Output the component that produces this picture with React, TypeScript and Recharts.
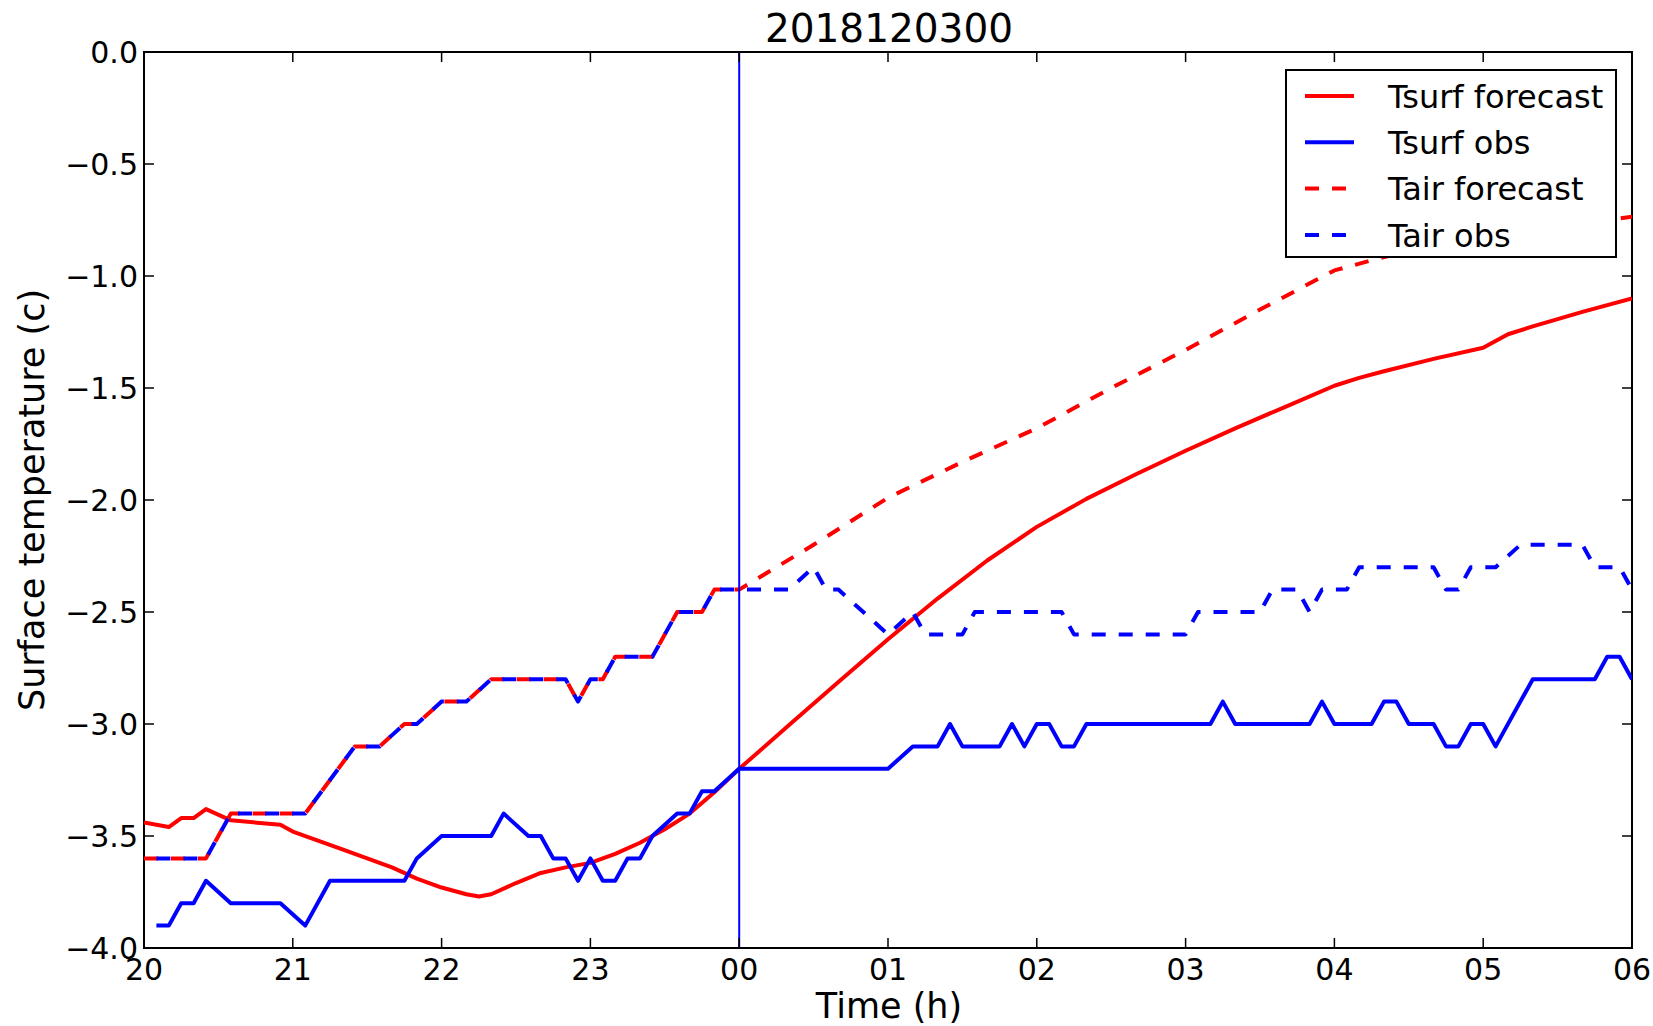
import React from 'react';
import { LineChart, Line, XAxis, YAxis, ReferenceLine, ReferenceArea, Legend } from 'recharts';

const FONT = '"DejaVu Sans", "Bitstream Vera Sans", sans-serif';
const W = 1653;
const H = 1026;
const PLOT = { left: 144, right: 1632, top: 52, bottom: 948 };
const TICK_LEN = 10;

// x values are minutes after 20:00
const HOUR_TICKS = [0, 60, 120, 180, 240, 300, 360, 420, 480, 540, 600];
const HOUR_LABELS = ['20', '21', '22', '23', '00', '01', '02', '03', '04', '05', '06'];
const TEMP_TICKS = [-4, -3.5, -3, -2.5, -2, -1.5, -1, -0.5, 0];
const TEMP_LABELS = ['−4.0', '−3.5', '−3.0', '−2.5', '−2.0', '−1.5', '−1.0', '−0.5', '0.0'];
const FORECAST_START = 240;

const tsurfForecast: [number, number][] = [
  [0, -3.44], [10, -3.46], [15, -3.42], [20, -3.42], [25, -3.38], [35, -3.43], [55, -3.45],
  [60, -3.48], [80, -3.56], [100, -3.64], [110, -3.69], [120, -3.73], [130, -3.76], [135, -3.77],
  [140, -3.76], [150, -3.71], [160, -3.665], [170, -3.64], [180, -3.62], [190, -3.58], [200, -3.53],
  [210, -3.47], [220, -3.4], [230, -3.305], [240, -3.2], [260, -3.006], [280, -2.812], [300, -2.622],
  [320, -2.44], [340, -2.27], [360, -2.12], [380, -1.995], [400, -1.885], [420, -1.78], [440, -1.68],
  [460, -1.585], [480, -1.49], [490, -1.455], [500, -1.425], [520, -1.37], [540, -1.32], [550, -1.26],
  [560, -1.225], [580, -1.16], [600, -1.1],
];

const tsurfObs: [number, number][] = [
  [5, -3.9], [10, -3.9], [15, -3.8], [20, -3.8], [25, -3.7], [35, -3.8], [55, -3.8], [65, -3.9],
  [75, -3.7], [105, -3.7], [110, -3.6], [120, -3.5], [140, -3.5], [145, -3.4], [155, -3.5],
  [160, -3.5], [165, -3.6], [170, -3.6], [175, -3.7], [180, -3.6], [185, -3.7], [190, -3.7],
  [195, -3.6], [200, -3.6], [205, -3.5], [215, -3.4], [220, -3.4], [225, -3.3], [230, -3.3],
  [240, -3.2], [300, -3.2], [310, -3.1], [320, -3.1], [325, -3.0], [330, -3.1], [345, -3.1],
  [350, -3.0], [355, -3.1], [360, -3.0], [365, -3.0], [370, -3.1], [375, -3.1], [380, -3.0],
  [430, -3.0], [435, -2.9], [440, -3.0], [470, -3.0], [475, -2.9], [480, -3.0], [495, -3.0],
  [500, -2.9], [505, -2.9], [510, -3.0], [520, -3.0], [525, -3.1], [530, -3.1], [535, -3.0],
  [540, -3.0], [545, -3.1], [560, -2.8], [585, -2.8], [590, -2.7], [595, -2.7], [600, -2.8],
];

// analysis part (before 00) follows the observations
const tairForecast: [number, number][] = [
  [0, -3.6], [25, -3.6], [35, -3.4], [65, -3.4], [85, -3.1], [95, -3.1], [105, -3.0], [110, -3.0],
  [120, -2.9], [130, -2.9], [140, -2.8], [170, -2.8], [175, -2.9], [180, -2.8], [185, -2.8],
  [190, -2.7], [205, -2.7], [215, -2.5], [225, -2.5], [230, -2.4], [240, -2.4], [270, -2.2],
  [300, -1.99], [330, -1.83], [360, -1.68], [390, -1.5], [420, -1.33], [450, -1.15],
  [480, -0.975], [500, -0.915], [520, -0.87], [540, -0.83], [570, -0.78], [600, -0.735],
];

const tairObs: [number, number][] = [
  [5, -3.6], [25, -3.6], [35, -3.4], [65, -3.4], [85, -3.1], [95, -3.1], [105, -3.0], [110, -3.0],
  [120, -2.9], [130, -2.9], [140, -2.8], [170, -2.8], [175, -2.9], [180, -2.8], [185, -2.8],
  [190, -2.7], [205, -2.7], [215, -2.5], [225, -2.5], [230, -2.4], [260, -2.4], [270, -2.3],
  [275, -2.4], [280, -2.4], [300, -2.6], [310, -2.5], [315, -2.6], [330, -2.6], [335, -2.5],
  [370, -2.5], [375, -2.6], [420, -2.6], [425, -2.5], [450, -2.5], [455, -2.4], [465, -2.4],
  [470, -2.5], [475, -2.4], [485, -2.4], [490, -2.3], [520, -2.3], [525, -2.4], [530, -2.4],
  [535, -2.3], [545, -2.3], [555, -2.2], [580, -2.2], [585, -2.3], [595, -2.3], [600, -2.4],
];

const RED = '#ff0000';
const BLUE = '#0000ff';
const DASH = '14 13';

const SERIES = [
  { name: 'Tsurf forecast', color: RED, dash: undefined, points: tsurfForecast },
  { name: 'Tsurf obs', color: BLUE, dash: undefined, points: tsurfObs },
  { name: 'Tair forecast', color: RED, dash: DASH, points: tairForecast },
  { name: 'Tair obs', color: BLUE, dash: DASH, points: tairObs },
];

const toPoints = (pairs: [number, number][]) => pairs.map(([t, v]) => ({ t, v }));

const XTick = ({ x, payload }: any) => {
  const label = HOUR_LABELS[HOUR_TICKS.indexOf(payload.value)];
  return (
    <g>
      <line x1={x} x2={x} y1={PLOT.bottom} y2={PLOT.bottom - TICK_LEN} stroke="#000" strokeWidth={1.5} />
      <line x1={x} x2={x} y1={PLOT.top} y2={PLOT.top + TICK_LEN} stroke="#000" strokeWidth={1.5} />
      <text x={x} y={980} textAnchor="middle" fontSize={30} fontFamily={FONT} fill="#000">
        {label}
      </text>
    </g>
  );
};

const YTick = ({ y, payload }: any) => {
  const label = TEMP_LABELS[TEMP_TICKS.indexOf(payload.value)];
  return (
    <g>
      <line x1={PLOT.left} x2={PLOT.left + TICK_LEN} y1={y} y2={y} stroke="#000" strokeWidth={1.5} />
      <line x1={PLOT.right} x2={PLOT.right - TICK_LEN} y1={y} y2={y} stroke="#000" strokeWidth={1.5} />
      <text x={138} y={y + 11} textAnchor="end" fontSize={30} fontFamily={FONT} fill="#000">
        {label}
      </text>
    </g>
  );
};

const LegendBox = () => (
  <svg width={332} height={189}>
    <rect x={1} y={1} width={330} height={187} fill="#fff" stroke="#000" strokeWidth={2} />
    {SERIES.map((s, i) => {
      const cy = 27 + i * 46.3;
      return (
        <g key={s.name}>
          <line x1={20} x2={69} y1={cy} y2={cy} stroke={s.color} strokeWidth={4} strokeDasharray={s.dash} />
          <text x={103} y={cy + 11.6} fontSize={32} fontFamily={FONT} fill="#000">
            {s.name}
          </text>
        </g>
      );
    })}
  </svg>
);

export default function App() {
  return (
    <div style={{ position: 'absolute', left: 0, top: 0, width: W, height: H, background: '#fff' }}>
      <LineChart
        width={W}
        height={H}
        margin={{ top: PLOT.top, right: W - PLOT.right, left: 0, bottom: 0 }}
        style={{ fontFamily: FONT }}
      >
        <XAxis
          dataKey="t"
          type="number"
          domain={[0, 600]}
          ticks={HOUR_TICKS}
          interval={0}
          height={H - PLOT.bottom}
          axisLine={false}
          tickLine={false}
          tickSize={0}
          tickMargin={0}
          tick={(p: any) => <XTick {...p} />}
          allowDataOverflow
          label={{
            content: () => (
              <text x={889} y={1018} textAnchor="middle" fontSize={35} fontFamily={FONT} fill="#000">
                Time (h)
              </text>
            ),
          }}
        />
        <YAxis
          dataKey="v"
          type="number"
          domain={[-4, 0]}
          ticks={TEMP_TICKS}
          interval={0}
          width={PLOT.left}
          axisLine={false}
          tickLine={false}
          tickSize={0}
          tickMargin={0}
          tick={(p: any) => <YTick {...p} />}
          allowDataOverflow
          label={{
            content: () => (
              <text
                x={44}
                y={500}
                transform="rotate(-90 44 500)"
                textAnchor="middle"
                fontSize={35}
                fontFamily={FONT}
                fill="#000"
              >
                Surface temperature (c)
              </text>
            ),
          }}
        />
        {SERIES.map((s) => (
          <Line
            key={s.name}
            data={toPoints(s.points)}
            dataKey="v"
            name={s.name}
            type="linear"
            stroke={s.color}
            strokeWidth={4}
            strokeDasharray={s.dash}
            strokeLinejoin="round"
            dot={false}
            activeDot={false}
            isAnimationActive={false}
          />
        ))}
        <ReferenceLine x={FORECAST_START} stroke={BLUE} strokeWidth={2} />
        <ReferenceArea x1={0} x2={600} y1={-4} y2={0} fill="none" stroke="#000" strokeWidth={2} />
        <Legend
          layout="vertical"
          align="center"
          verticalAlign="middle"
          content={() => <LegendBox />}
          wrapperStyle={{ position: 'absolute', left: 1285, top: 69, width: 332, height: 189 }}
        />
      </LineChart>
      <svg
        width={W}
        height={60}
        style={{ position: 'absolute', left: 0, top: 0, pointerEvents: 'none' }}
      >
        <text x={889} y={42} textAnchor="middle" fontSize={39} fontFamily={FONT} fill="#000">
          2018120300
        </text>
      </svg>
    </div>
  );
}
